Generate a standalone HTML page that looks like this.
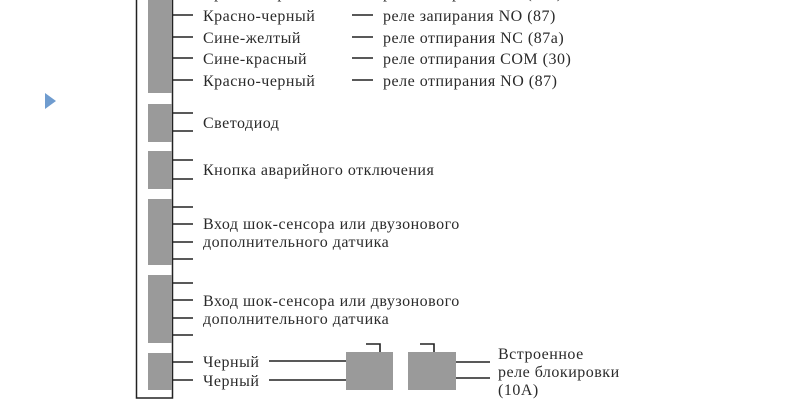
<!DOCTYPE html>
<html><head><meta charset="utf-8"><style>
html,body{margin:0;padding:0;background:#fff;}
svg{display:block;}
text{font-family:"Liberation Serif","Noto Serif CJK SC",serif;font-size:16px;letter-spacing:0.5px;fill:#2a2a2a;}
</style></head><body>
<svg width="793" height="419" viewBox="0 0 793 419">
<rect x="0" y="0" width="793" height="419" fill="#fff"/>
<polygon points="45,93 45,109 56,101" fill="#6f9ccf"/>
<rect x="136.5" y="-5" width="36" height="403" fill="none" stroke="#222" stroke-width="1.5"/>
<g fill="#9a9a9a">
<rect x="148" y="-5" width="24" height="98"/>
<rect x="148" y="104" width="24" height="38"/>
<rect x="148" y="151" width="24" height="38"/>
<rect x="148" y="199" width="24" height="66"/>
<rect x="148" y="275" width="24" height="68"/>
<rect x="148" y="353" width="24" height="37"/>
<rect x="346" y="352" width="47" height="38"/>
<rect x="408" y="352" width="48" height="38"/>
</g>
<g stroke="#222" stroke-width="1.6" fill="none">
<path d="M172 15H193M172 37H193M172 58H193M172 80H193M172 113H193M172 131H193M172 160H193M172 179H193M172 207H193M172 224H193M172 242H193M172 259H193M172 283H193M172 300H193M172 318H193M172 335H193M172 362H193M172 380H193"/>
<path d="M352 15H373M352 37H373M352 58H373M352 80H373"/>
<path d="M269 361H346M269 380H346M456 362H490M456 378H490"/>
<path d="M366 344H380V352M420 344H434V352"/>
<path d="M352 -3H373"/>
</g>
<text x="203" y="-2">Красно-черный</text>
<text x="203" y="21">Красно-черный</text>
<text x="203" y="43">Сине-желтый</text>
<text x="203" y="64">Сине-красный</text>
<text x="203" y="86">Красно-черный</text>
<text x="383" y="-2">реле запирания NC (87a)</text>
<text x="383" y="21">реле запирания NO (87)</text>
<text x="383" y="43">реле отпирания NC (87a)</text>
<text x="383" y="64">реле отпирания COM (30)</text>
<text x="383" y="86">реле отпирания NO (87)</text>
<text x="203" y="128">Светодиод</text>
<text x="203" y="175">Кнопка аварийного отключения</text>
<text x="203" y="229">Вход шок-сенсора или двузонового</text>
<text x="203" y="247">дополнительного датчика</text>
<text x="203" y="306">Вход шок-сенсора или двузонового</text>
<text x="203" y="324">дополнительного датчика</text>
<text x="203" y="367">Черный</text>
<text x="203" y="386">Черный</text>
<text x="498" y="359">Встроенное</text>
<text x="498" y="377">реле блокировки</text>
<text x="498" y="395">(10A)</text>
</svg>
</body></html>
